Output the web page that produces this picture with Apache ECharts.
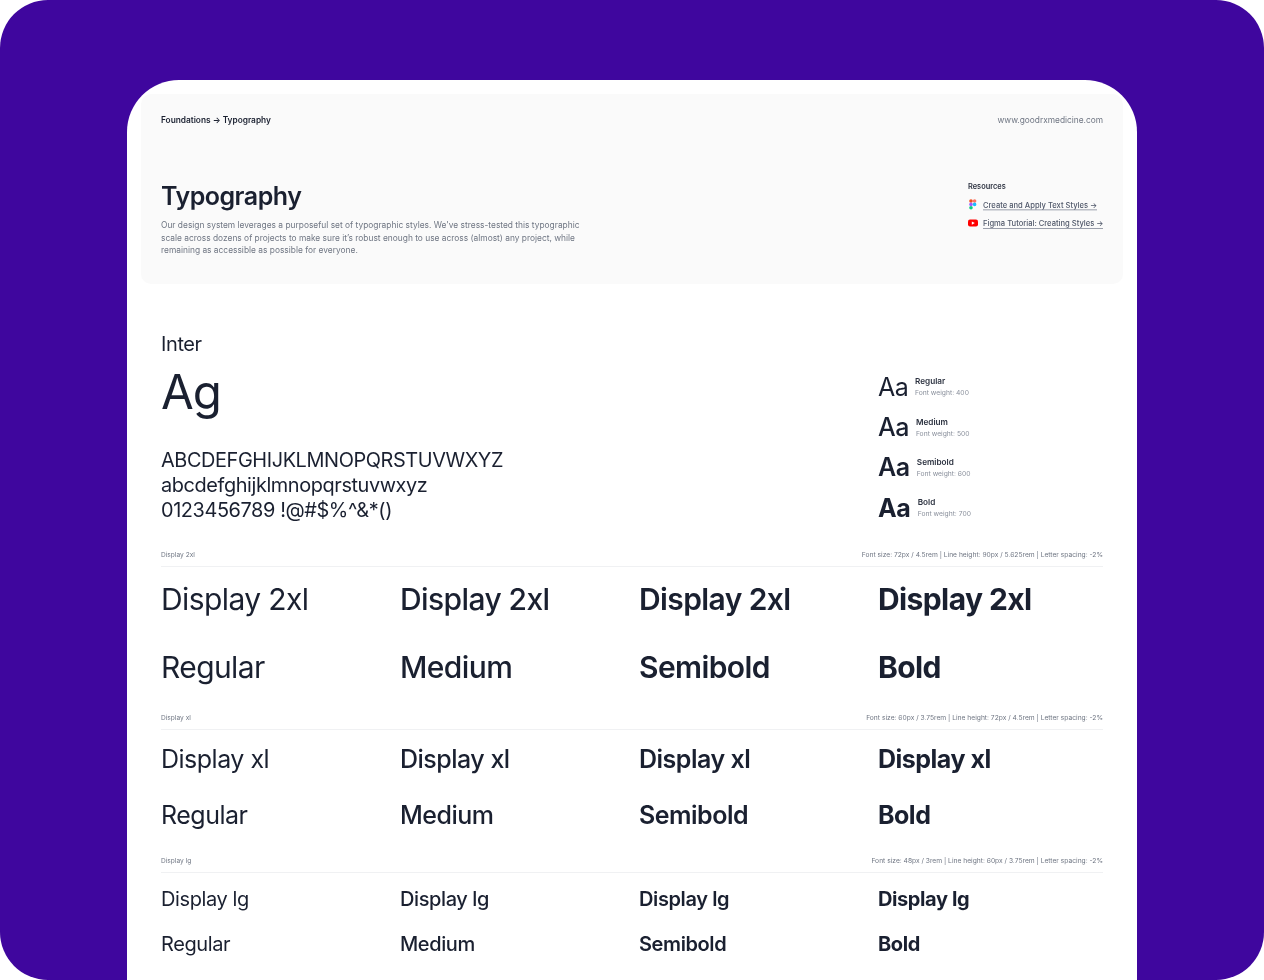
<!DOCTYPE html>
<html lang="en">
<head>
    <meta charset="UTF-8">
    <title>Typography</title>
    <script src="https://cdn.jsdelivr.net/npm/echarts/dist/echarts.min.js"></script>
    <style>
        html, body { margin: 0; padding: 0; background: #ffffff; }
        #chart { width: 1264px; height: 980px; }
    </style>
</head>
<body>
    <div id="chart"></div>
    <script>
        // page texts
        let crumb = 'Foundations → Typography';
        let site = 'www.goodrxmedicine.com';
        let pageTitle = 'Typography';
        let intro = [
            "Our design system leverages a purposeful set of typographic styles. We've stress-tested this typographic",
            "scale across dozens of projects to make sure it’s robust enough to use across (almost) any project, while",
            "remaining as accessible as possible for everyone."
        ];
        let resourceTitle = 'Resources';
        let resources = ['Create and Apply Text Styles →', 'Figma Tutorial: Creating Styles →'];
        let glyphLines = ['ABCDEFGHIJKLMNOPQRSTUVWXYZ', 'abcdefghijklmnopqrstuvwxyz', '0123456789 !@#$%^&*()'];
        let weightNames = ['Regular', 'Medium', 'Semibold', 'Bold'];
        let weightValues = [400, 500, 600, 700];
        let scaleNames = ['Display 2xl', 'Display xl', 'Display lg'];
        let scaleSpecs = [
            'Font size: 72px / 4.5rem | Line height: 90px / 5.625rem | Letter spacing: -2%',
            'Font size: 60px / 3.75rem | Line height: 72px / 4.5rem | Letter spacing: -2%',
            'Font size: 48px / 3rem | Line height: 60px / 3.75rem | Letter spacing: -2%'
        ];

        const INK = '#1a2030';
        const GREY = '#6f7683';
        const FONT = 'Inter';

        // the display sizes are set with -2% tracking, echarts has no option for it
        const fillText = CanvasRenderingContext2D.prototype.fillText;
        CanvasRenderingContext2D.prototype.fillText = function (t, x, y, w) {
            let m = /([\d.]+)px/.exec(this.font);
            let size = m ? parseFloat(m[1]) : 0;
            this.letterSpacing = size >= 19 ? (-0.02 * size) + 'px' : '0px';
            if (w === undefined) fillText.call(this, t, x, y);
            else fillText.call(this, t, x, y, w);
        };

        function label(text, x, y, size, weight, fill, align) {
            return {
                type: 'text',
                silent: true,
                style: {
                    text: text, x: x, y: y,
                    fontFamily: FONT, fontSize: size, fontWeight: weight,
                    fill: fill, align: align || 'left', verticalAlign: 'middle'
                }
            };
        }
        function box(x, y, w, h, fill, r) {
            return { type: 'rect', silent: true, shape: { x: x, y: y, width: w, height: h, r: r || 0 }, style: { fill: fill } };
        }

        let els = [];
        // backdrop and card
        els.push(box(0, 0, 1264, 980, '#3f069e', 48));
        els.push(box(127, 80, 1010, 900, '#ffffff', [52, 52, 0, 0]));
        els.push(box(141, 94, 982, 190, '#fafafa', 10));

        // header panel
        els.push(label(crumb, 161, 120.8, 8.3, 600, INK));
        els.push(label(site, 1103, 120.5, 8.33, 400, GREY, 'right'));
        els.push(label(pageTitle, 161, 197.3, 25, 600, INK));
        intro.forEach(function (t, i) {
            els.push(label(t, 161, 225.8 + i * 12.4, 8.4, 400, GREY));
        });
        els.push(label(resourceTitle, 968, 186.8, 7.4, 600, '#2c3240'));
        resources.forEach(function (t, i) {
            let y = 205.6 + i * 18.6;
            els.push(label(t, 983, y, 7.6, 500, '#50586a'));
            els.push(box(983, y + 4, i === 0 ? 114 : 120, 0.7, '#7a8090'));
        });
        // figma mark
        [['#f24e1e', 971, 201], ['#ff7262', 974.6, 201], ['#a259ff', 971, 204.4], ['#1abcfe', 974.6, 204.4], ['#0acf83', 971, 207.8]].forEach(function (c) {
            els.push({ type: 'circle', silent: true, shape: { cx: c[1], cy: c[2], r: 1.8 }, style: { fill: c[0] } });
        });
        // youtube mark
        els.push(box(968, 219.5, 10, 7, '#ff0000', 2));
        els.push({ type: 'polygon', silent: true, shape: { points: [[971.8, 221.4], [971.8, 224.8], [974.8, 223.1]] }, style: { fill: '#ffffff' } });

        // specimen
        els.push(label('Inter', 161, 344.5, 20, 400, INK));
        els.push(label('Ag', 161, 395, 47.5, 400, INK));
        glyphLines.forEach(function (t, i) {
            els.push(label(t, 161, 461 + i * 25, 19.9, 400, INK));
        });
        weightNames.forEach(function (name, i) {
            let y = 388 + i * 40.4;
            let tx = 915 + i * 0.9;
            els.push(label('Aa', 878, y, 25, weightValues[i], INK));
            els.push(label(name, tx, y - 6.2, 8.2, 600, '#2c3240'));
            els.push(label('Font weight: ' + weightValues[i], tx, y + 5.2, 6.75, 400, '#8a909c'));
        });

        // display scale blocks
        let colX = [161, 400, 639, 878];
        let blocks = [
            { labelY: 554.8, ruleY: 566, row1: 601, row2: 669, size: 30 },
            { labelY: 717.8, ruleY: 729, row1: 760.2, row2: 816, size: 25 },
            { labelY: 860.8, ruleY: 872, row1: 899.8, row2: 945.2, size: 20 }
        ];
        blocks.forEach(function (b, i) {
            els.push(label(scaleNames[i], 161, b.labelY, 6.6, 400, GREY));
            els.push(label(scaleSpecs[i], 1103, b.labelY, 6.7, 400, GREY, 'right'));
            els.push(box(161, b.ruleY, 942, 1, '#f0f1f3'));
            weightNames.forEach(function (name, j) {
                els.push(label(scaleNames[i], colX[j], b.row1, b.size, weightValues[j], INK));
                els.push(label(name, colX[j], b.row2, b.size, weightValues[j], INK));
            });
        });

        let option = {
            backgroundColor: '#ffffff',
            animation: false,
            graphic: { elements: els }
        };

        let chart = echarts.init(document.getElementById('chart'));
        chart.setOption(option);
    </script>
</body>
</html>
